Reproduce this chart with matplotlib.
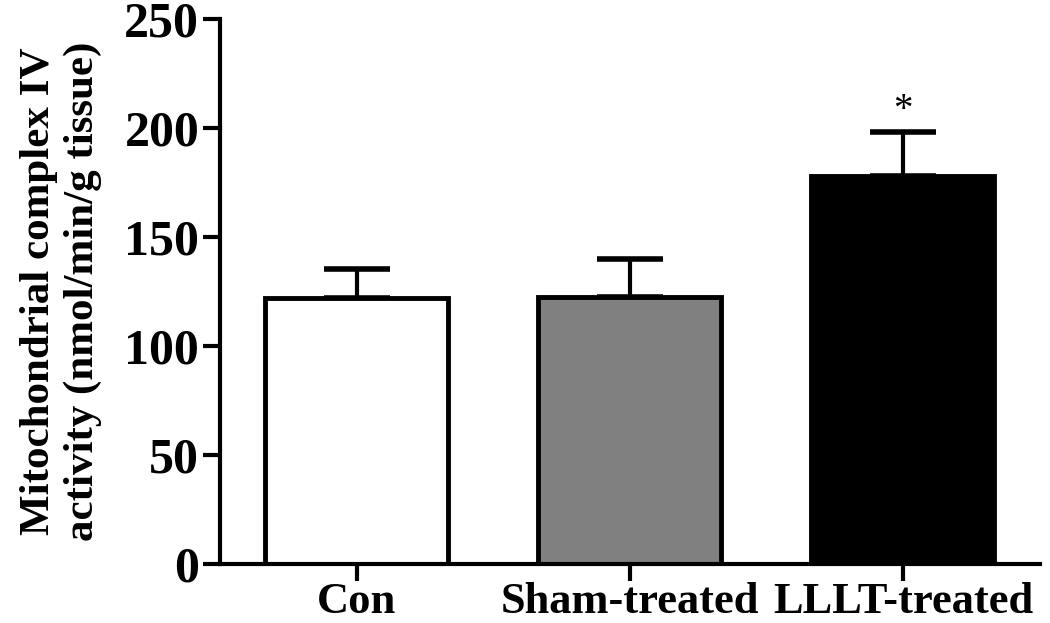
import matplotlib
matplotlib.use("Agg")
import matplotlib.pyplot as plt
import numpy as np

categories = ["Con", "Sham-treated", "LLLT-treated"]
means = [122, 122.5, 178]
errors = [13.5, 17.5, 20]
colors = ["white", "#808080", "black"]
yticks = [0, 50, 100, 150, 200, 250]

plt.rcParams['font.family'] = ['Liberation Serif', 'DejaVu Serif']
plt.rcParams['font.weight'] = 'bold'

fig = plt.figure(figsize=(10.5, 6.23), dpi=100)
ax = fig.add_axes([0.2095, 0.0947, 0.7805, 0.8748])

x = np.arange(len(categories))
lower = [0] * len(errors)
ax.errorbar(x, means, yerr=[lower, errors], fmt='none', ecolor='black',
            elinewidth=3, capsize=24, capthick=4, zorder=1)
ax.bar(x, means, width=0.67, color=colors, edgecolor='black', linewidth=3.5, zorder=2)

ax.text(x[2], means[2] + errors[2] + 1.5, "*", ha='center', va='bottom', fontsize=28, fontweight='normal')

ax.set_xlim(-0.5, 2.5)
ax.set_ylim(0, 250)
ax.set_yticks(yticks)
ax.set_xticks(x)
ax.set_xticklabels(categories, fontsize=32, fontweight='bold')
ax.tick_params(axis='y', labelsize=36, length=12, width=3, direction='out', pad=3)
ax.tick_params(axis='x', length=12, width=3, direction='out', pad=1)
for lab in ax.get_yticklabels():
    lab.set_fontweight('bold')

for s in ['top', 'right']:
    ax.spines[s].set_visible(False)
for s in ['left', 'bottom']:
    ax.spines[s].set_linewidth(3)

ax.set_ylabel("Mitochondrial complex IV\nactivity (nmol/min/g tissue)", fontsize=31,
              fontweight='bold', labelpad=16, linespacing=1.2)

fig.savefig("out.png", dpi=100)
